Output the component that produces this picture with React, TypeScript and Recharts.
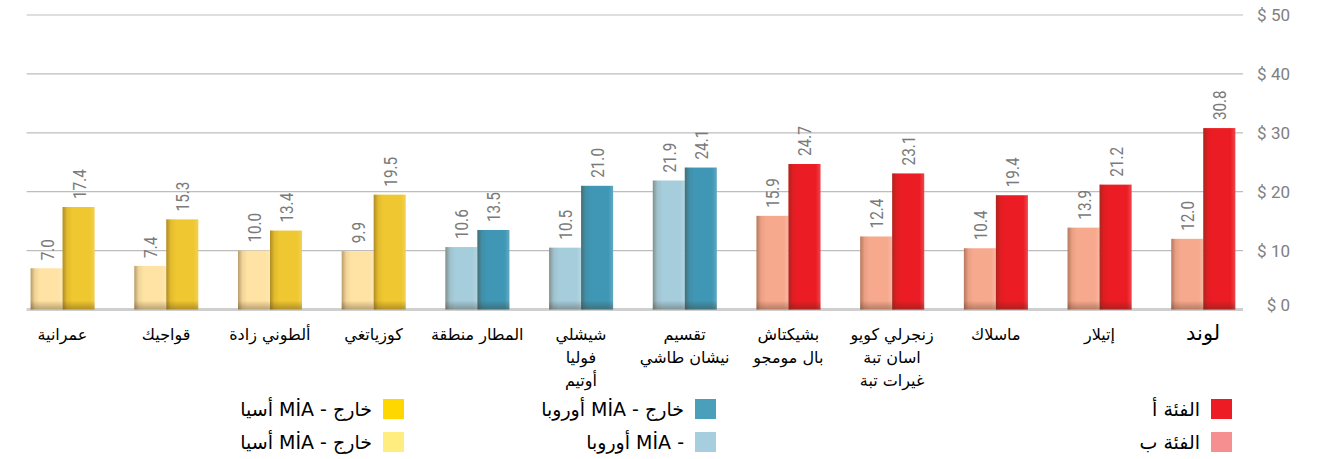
import { BarChart, Bar, XAxis, YAxis, CartesianGrid, Cell, LabelList } from "recharts";

const categories = [
  "عمرانية",
  "قواجيك",
  "ألطوني زادة",
  "كوزياتغي",
  "المطار منطقة",
  "شيشلي\nفوليا\nأوتيم",
  "تقسيم\nنيشان طاشي",
  "بشيكتاش\nبال مومجو",
  "زنجرلي كويو\nاسان تبة\nغيرات تبة",
  "ماسلاك",
  "إتيلار",
  "لوند",
];
const lightValues = [7.0, 7.4, 10.0, 9.9, 10.6, 10.5, 21.9, 15.9, 12.4, 10.4, 13.9, 12.0];
const darkValues = [17.4, 15.3, 13.4, 19.5, 13.5, 21.0, 24.1, 24.7, 23.1, 19.4, 21.2, 30.8];
const groups = ["asia", "asia", "asia", "asia", "europe", "europe", "europe", "cat", "cat", "cat", "cat", "cat"];
const yTicks = [0, 10, 20, 30, 40, 50];

const barColors: Record<string, { light: string; dark: string }> = {
  asia: { light: "#FEE3A4", dark: "#EFC730" },
  europe: { light: "#A5CDDC", dark: "#3F97B5" },
  cat: { light: "#F7A98E", dark: "#EC1C24" },
};

const legendCols = [
  {
    right: 917,
    items: [
      { color: "#FFD700", label: "خارج - MİA أسيا" },
      { color: "#FFED80", label: "خارج - MİA أسيا" },
    ],
  },
  {
    right: 605,
    items: [
      { color: "#4A9FBB", label: "خارج - MİA أوروبا" },
      { color: "#A6CEDE", label: "- MİA أوروبا" },
    ],
  },
  {
    right: 89,
    items: [
      { color: "#ED1C24", label: "الفئة أ" },
      { color: "#F69090", label: "الفئة ب" },
    ],
  },
];

const data = categories.map((name, i) => ({
  name,
  light: lightValues[i],
  dark: darkValues[i],
  group: groups[i],
}));

const numFont = "Roboto, 'DejaVu Sans Condensed', sans-serif";
const arFont = "'DejaVu Sans', 'Liberation Sans', sans-serif";

function ShadedBar(props: any) {
  const { x, y, width, height, fill } = props;
  if (!height || height <= 0) return null;
  const sh = Math.min(9, height);
  return (
    <g>
      <rect x={x} y={y} width={width} height={height} fill={fill} />
      <rect x={x} y={y} width={width} height={height} fill="url(#shadeH)" />
      <rect x={x} y={y + height - sh} width={width} height={sh} fill="url(#shadeV)" />
    </g>
  );
}

// rotated, slightly condensed value above each bar
function ValueLabel(props: any) {
  const { x, y, width, value } = props;
  const cx = x + width / 2 + 1;
  const ty = y - 8;
  return (
    <text
      x={0}
      y={0}
      transform={`translate(${cx} ${ty}) rotate(-90) scale(0.85 1)`}
      textAnchor="start"
      dominantBaseline="central"
      fontFamily={numFont}
      fontSize={18}
      fill="#7a7a7a"
    >
      {Number(value).toFixed(1)}
    </text>
  );
}

function CategoryTick(props: any) {
  const { x, y, payload } = props;
  const lines = String(payload.value).split("\n");
  const big = payload.value === "لوند";
  return (
    <g>
      {lines.map((ln, k) => (
        <text
          key={k}
          x={x}
          y={y + 22 + k * 23}
          textAnchor="middle"
          fontFamily={arFont}
          fontSize={big ? 21 : 16}
          fill="#000"
          direction="rtl"
        >
          {ln}
        </text>
      ))}
    </g>
  );
}

function PriceTick(props: any) {
  const { x, y, payload } = props;
  return (
    <text
      x={x + 27}
      y={payload.value === 0 ? y - 5 : y}
      textAnchor="end"
      dominantBaseline="central"
      fontFamily={numFont}
      fontSize={17}
      fill="#808080"
    >
      {`$ ${payload.value}`}
    </text>
  );
}

function GridLine(props: any) {
  const { x1, x2, y1, y2, index } = props;
  const isBase = index === 0;
  return (
    <line
      x1={x1 + 16}
      x2={x2 - 12}
      y1={y1}
      y2={y2}
      stroke={isBase ? "#cfcfcf" : "#bdbdbd"}
      strokeWidth={isBase ? 3 : 1.2}
    />
  );
}

export default function App() {
  return (
    <div style={{ position: "absolute", left: 0, top: 0, width: 1321, height: 459, background: "#fff" }}>
      <BarChart
        width={1321}
        height={459}
        data={data}
        margin={{ top: 15, right: 0, left: 10.6, bottom: 50 }}
        barGap={0}
        barSize={32}
      >
        <defs>
          <linearGradient id="shadeH" x1="0" y1="0" x2="1" y2="0">
            <stop offset="0%" stopColor="#503214" stopOpacity={0.4} />
            <stop offset="14%" stopColor="#503214" stopOpacity={0.08} />
            <stop offset="30%" stopColor="#503214" stopOpacity={0} />
            <stop offset="85%" stopColor="#ffffff" stopOpacity={0} />
            <stop offset="100%" stopColor="#ffffff" stopOpacity={0.18} />
          </linearGradient>
          <linearGradient id="shadeV" x1="0" y1="0" x2="0" y2="1">
            <stop offset="0%" stopColor="#3c2814" stopOpacity={0} />
            <stop offset="100%" stopColor="#3c2814" stopOpacity={0.35} />
          </linearGradient>
        </defs>
        <CartesianGrid vertical={false} horizontal={GridLine} />
        <XAxis
          dataKey="name"
          interval={0}
          axisLine={false}
          tickLine={false}
          height={99.5}
          tick={CategoryTick}
        />
        <YAxis
          orientation="right"
          domain={[0, 50]}
          ticks={yTicks}
          width={66}
          axisLine={false}
          tickLine={false}
          tick={PriceTick}
        />
        <Bar dataKey="light" isAnimationActive={false} shape={ShadedBar}>
          {data.map((d, i) => (
            <Cell key={i} fill={barColors[d.group].light} />
          ))}
          <LabelList dataKey="light" content={ValueLabel} />
        </Bar>
        <Bar dataKey="dark" isAnimationActive={false} shape={ShadedBar}>
          {data.map((d, i) => (
            <Cell key={i} fill={barColors[d.group].dark} />
          ))}
          <LabelList dataKey="dark" content={ValueLabel} />
        </Bar>
      </BarChart>
      {legendCols.map((col, c) => (
        <div key={c} style={{ position: "absolute", right: col.right, top: 392 }}>
          {col.items.map((it, k) => (
            <div
              key={k}
              dir="rtl"
              style={{ display: "flex", alignItems: "center", height: 33, gap: 11, fontFamily: arFont, fontSize: 19, color: "#000" }}
            >
              <span style={{ display: "inline-block", width: 21, height: 20, background: it.color, flex: "none" }} />
              <span style={{ whiteSpace: "nowrap" }}>{it.label}</span>
            </div>
          ))}
        </div>
      ))}
    </div>
  );
}
